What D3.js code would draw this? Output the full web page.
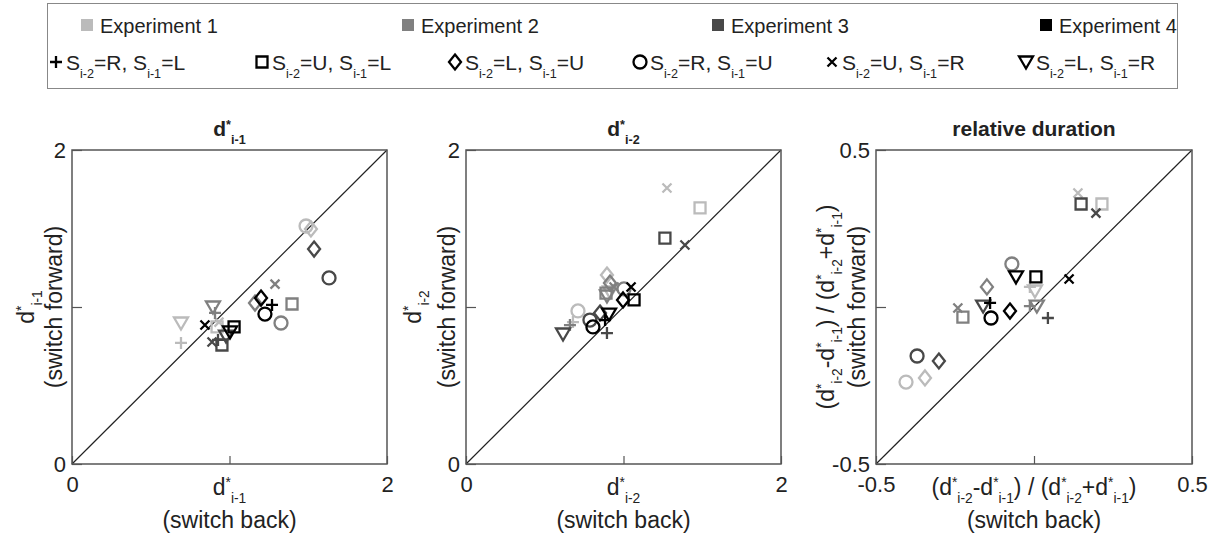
<html>
<script src="https://d3js.org/d3.v7.min.js"></script>
<style>
  body { margin: 0; background: #fff; }
  svg { font-family: Arial, "Liberation Sans", sans-serif; }
  .frame { fill: none; stroke: #555; stroke-width: 1.5px; }
  .diag { stroke: #222; stroke-width: 1.2px; }
  .mark { fill: none; stroke-width: 2.3px; }
  .legendbox { fill: none; stroke: #888; stroke-width: 1px; }
</style>
<svg width=1221 height=541></svg>
<script>
const experiments = ['Experiment 1', 'Experiment 2', 'Experiment 3', 'Experiment 4'];
const expColors = ['#bbbbbb', '#808080', '#484848', '#000000'];
// S_{i-2}, S_{i-1} for each condition, with its marker
const conditions = [['R', 'L'], ['U', 'L'], ['L', 'U'], ['R', 'U'], ['U', 'R'], ['L', 'R']];
const conditionShapes = ['plus', 'square', 'diamond', 'circle', 'cross', 'triangle'];

// [experiment, condition, switch back, switch forward]
const dPrev1 = [
  [0, 3, 1.486, 1.516], [0, 2, 1.517, 1.497], [0, 5, 0.692, 0.898], [0, 0, 0.692, 0.771], [0, 1, 0.921, 0.873], [0, 4, 0.933, 0.904],
  [1, 4, 1.289, 1.146], [1, 1, 1.397, 1.019], [1, 3, 1.327, 0.898], [1, 2, 1.162, 1.025], [1, 5, 0.895, 1.000], [1, 0, 0.908, 0.962],
  [2, 2, 1.537, 1.369], [2, 3, 1.632, 1.185], [2, 1, 0.952, 0.758], [2, 4, 0.889, 0.777], [2, 5, 0.978, 0.815], [2, 0, 0.927, 0.790],
  [3, 2, 1.200, 1.057], [3, 4, 0.844, 0.885], [3, 0, 1.270, 1.013], [3, 3, 1.225, 0.955], [3, 1, 1.029, 0.873], [3, 5, 1.003, 0.841]
];
const dPrev2 = [
  [0, 4, 1.276, 1.758], [0, 1, 1.486, 1.631], [0, 2, 0.895, 1.204], [0, 3, 0.711, 0.975], [0, 0, 0.679, 0.904], [0, 5, 0.914, 1.096],
  [1, 2, 0.914, 1.153], [1, 4, 0.940, 1.127], [1, 5, 0.895, 1.070], [1, 3, 1.003, 1.115], [1, 1, 0.889, 1.089], [1, 0, 0.660, 0.885],
  [2, 1, 1.263, 1.439], [2, 4, 1.390, 1.395], [2, 2, 0.851, 0.962], [2, 0, 0.895, 0.834], [2, 5, 0.616, 0.828], [2, 3, 0.787, 0.917],
  [3, 4, 1.048, 1.127], [3, 2, 0.997, 1.045], [3, 1, 1.067, 1.045], [3, 5, 0.908, 0.955], [3, 3, 0.806, 0.873], [3, 0, 0.883, 0.917]
];
const relDuration = [
  [0, 4, 0.139, 0.363], [0, 1, 0.215, 0.328], [0, 3, -0.405, -0.239], [0, 2, -0.345, -0.226], [0, 5, 0.003, 0.051], [0, 0, -0.013, 0.064],
  [1, 4, -0.241, -0.003], [1, 1, -0.225, -0.032], [1, 2, -0.149, 0.064], [1, 3, -0.070, 0.137], [1, 0, -0.013, 0.003], [1, 5, 0.009, 0.003],
  [2, 1, 0.149, 0.328], [2, 4, 0.196, 0.299], [2, 3, -0.370, -0.156], [2, 2, -0.301, -0.172], [2, 0, 0.044, -0.035], [2, 5, -0.161, 0.003],
  [3, 4, 0.111, 0.089], [3, 1, 0.006, 0.096], [3, 5, -0.057, 0.096], [3, 2, -0.076, -0.013], [3, 3, -0.136, -0.035], [3, 0, -0.139, 0.013]
];

const dStar = (sub) => [['d', 'n'], ['*', 'sup'], [sub, 'sub']];
const relLabel = [['(d', 'n'], ['*', 'sup'], ['i-2', 'sub'], ['-d', 'n'], ['*', 'sup'], ['i-1', 'sub'],
  [') / (d', 'n'], ['*', 'sup'], ['i-2', 'sub'], ['+d', 'n'], ['*', 'sup'], ['i-1', 'sub'], [')', 'n']];

const panels = [
  { data: dPrev1, domain: [0, 2], ticks: ['0', '2'], left: 72, right: 387, title: dStar('i-1'), label: dStar('i-1'), ylabelX: [34, 62] },
  { data: dPrev2, domain: [0, 2], ticks: ['0', '2'], left: 466, right: 781, title: dStar('i-2'), label: dStar('i-2'), ylabelX: [421, 455] },
  { data: relDuration, domain: [-0.5, 0.5], ticks: ['-0.5', '0.5'], left: 876, right: 1192, title: [['relative duration', 'n']], label: relLabel, ylabelX: [834, 865] }
];
const plotTop = 150, plotBottom = 464;

let svg = d3.select('svg');

function rich(sel, x, y, parts, size, anchor, weight) {
  let t = sel.append('text').attr('x', x).attr('y', y)
    .attr('font-size', size).attr('text-anchor', anchor || 'start')
    .attr('font-weight', weight || 'normal').attr('fill', '#222');
  let shift = 0;
  parts.forEach(([s, k]) => {
    let target = k === 'sub' ? size * 0.36 : k === 'sup' ? -size * 0.33 : 0;
    t.append('tspan').attr('dy', target - shift)
      .attr('font-size', k === 'n' ? size : size * 0.6).text(s);
    shift = target;
  });
  return t;
}

function shapePath(shape) {
  switch (shape) {
    case 'plus': return 'M-6,0H6M0,-6V6';
    case 'cross': return 'M-4.5,-4.5L4.5,4.5M-4.5,4.5L4.5,-4.5';
    case 'square': return 'M-5.5,-5.5H5.5V5.5H-5.5Z';
    case 'diamond': return 'M0,-7.5L6,0L0,7.5L-6,0Z';
    case 'circle': return 'M6.5,0A6.5,6.5 0 1,1 -6.5,0A6.5,6.5 0 1,1 6.5,0Z';
    case 'triangle': return 'M-7,-5.5H7L0,6.5Z';
  }
}

// legend
svg.append('rect').attr('class', 'legendbox').attr('x', 47.5).attr('y', 3.5).attr('width', 1130).attr('height', 85);
let expX = [81, 402, 712, 1040];
experiments.forEach((e, i) => {
  svg.append('rect').attr('x', expX[i]).attr('y', 19).attr('width', 12).attr('height', 12).attr('fill', expColors[i]);
  svg.append('text').attr('x', expX[i] + 19).attr('y', 33).attr('font-size', 20).attr('fill', '#222').text(e);
});
let condX = [56, 262, 455, 640, 832, 1026];
conditions.forEach((c, i) => {
  svg.append('path').attr('class', 'mark').attr('stroke', '#000').attr('stroke-width', 2)
    .attr('transform', 'translate(' + condX[i] + ',62)').attr('d', shapePath(conditionShapes[i]));
  rich(svg, condX[i] + 10, 70, [['S', 'n'], ['i-2', 'sub'], ['=' + c[0] + ', S', 'n'], ['i-1', 'sub'], ['=' + c[1], 'n']], 21);
});

panels.forEach(p => {
  let x = d3.scaleLinear().domain(p.domain).range([p.left, p.right]);
  let y = d3.scaleLinear().domain(p.domain).range([plotBottom, plotTop]);
  let mid = (p.domain[0] + p.domain[1]) / 2;
  let g = svg.append('g');
  let fmt = d => d === p.domain[0] ? p.ticks[0] : d === p.domain[1] ? p.ticks[1] : '';

  let xa = g.append('g').attr('transform', 'translate(0,' + plotBottom + ')')
    .call(d3.axisBottom(x).tickValues([p.domain[0], mid, p.domain[1]]).tickFormat(fmt)
      .tickSizeInner(-8).tickSizeOuter(0).tickPadding(12));
  let ya = g.append('g').attr('transform', 'translate(' + p.left + ',0)')
    .call(d3.axisLeft(y).tickValues([p.domain[0], mid, p.domain[1]]).tickFormat(fmt)
      .tickSizeInner(-10).tickSizeOuter(0).tickPadding(6));
  [xa, ya].forEach(a => {
    a.select('.domain').remove();
    a.selectAll('line').attr('stroke', '#555').attr('stroke-width', 1.2);
    a.selectAll('text').attr('font-size', 22).attr('fill', '#222').attr('font-family', 'Arial, "Liberation Sans", sans-serif');
  });
  ya.selectAll('text').attr('dy', '0.34em');

  g.append('line').attr('class', 'diag')
    .attr('x1', x(p.domain[0])).attr('y1', y(p.domain[0]))
    .attr('x2', x(p.domain[1])).attr('y2', y(p.domain[1]));
  g.append('rect').attr('class', 'frame')
    .attr('x', p.left).attr('y', plotTop).attr('width', p.right - p.left).attr('height', plotBottom - plotTop);

  g.selectAll('.pt').data(p.data).enter().append('path')
    .attr('class', 'mark pt')
    .attr('stroke', d => expColors[d[0]])
    .attr('transform', d => 'translate(' + x(d[2]) + ',' + y(d[3]) + ')')
    .attr('d', d => shapePath(conditionShapes[d[1]]));

  let cx = (p.left + p.right) / 2, cy = (plotTop + plotBottom) / 2;
  rich(g, cx, 136, p.title, 21, 'middle', 'bold');
  rich(g, cx, 495, p.label, 23, 'middle');
  g.append('text').attr('x', cx).attr('y', 528).attr('text-anchor', 'middle')
    .attr('font-size', 23).attr('fill', '#222').text('(switch back)');

  let yl = g.append('g').attr('transform', 'translate(' + p.ylabelX[0] + ',' + cy + ') rotate(-90)');
  rich(yl, 0, 0, p.label, 23, 'middle');
  let yl2 = g.append('g').attr('transform', 'translate(' + p.ylabelX[1] + ',' + cy + ') rotate(-90)');
  yl2.append('text').attr('text-anchor', 'middle').attr('font-size', 23).attr('fill', '#222').text('(switch forward)');
});
</script>
</html>
